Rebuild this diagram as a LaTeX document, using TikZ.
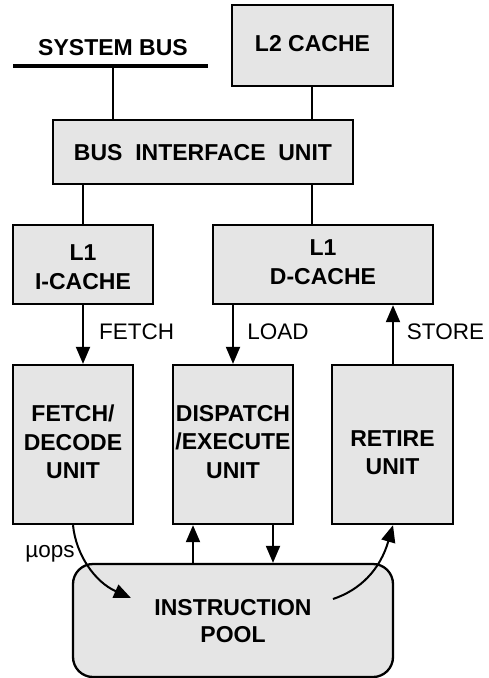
\documentclass[tikz,border=0pt]{standalone}
\usepackage{fontspec}
\setmainfont{Liberation Sans}
\usetikzlibrary{arrows.meta,calc}
\begin{document}
\begin{tikzpicture}[x=1pt,y=-1pt,
  box/.style={draw=black,line width=2.3pt,fill=black!10,inner sep=0pt},
  txt/.style={inner sep=0pt,align=center,font=\bfseries\fontsize{23}{28.5}\selectfont},
  lbl/.style={inner sep=0pt,font=\fontsize{22.5}{26}\selectfont},
  conn/.style={line width=2pt},
  arr/.style={line width=2pt,-{Triangle[length=17pt,width=14pt]}}]
\useasboundingbox (0,0) rectangle (488,678);
% boxes
\node[box,minimum width=161pt,minimum height=81pt] (l2) at (312.5,45.5) {};
\node[box,minimum width=300pt,minimum height=64pt] (biu) at (203,152) {};
\node[box,minimum width=140pt,minimum height=79pt] (l1i) at (83,264.5) {};
\node[box,minimum width=220pt,minimum height=79pt] (l1d) at (323,264.5) {};
\node[box,minimum width=120pt,minimum height=159pt] (fd) at (73,444.5) {};
\node[box,minimum width=120pt,minimum height=159pt] (de) at (233,444.5) {};
\node[box,minimum width=121pt,minimum height=159pt] (ru) at (392.5,444.5) {};
\node[box,minimum width=320pt,minimum height=113pt,rounded corners=20pt] (pool) at (233,620.5) {};
% texts
\node[txt] (l2t) at (312.5,44) {L2 CACHE};
\node[txt] (biut) at (203,152.5) {BUS\ \ INTERFACE\ \ UNIT};
\node[txt] (l1it) at (83,267) {L1\\[0.5pt]I-CACHE};
\node[txt] (l1dt) at (323,262) {L1\\[0.5pt]D-CACHE};
\node[txt] (fdt) at (73,442) {FETCH/\\DECODE\\UNIT};
\node[txt] (det) at (233,442) {DISPATCH\\/EXECUTE\\UNIT};
\node[txt] (rut) at (392.5,452.5) {RETIRE\\UNIT};
\node[txt,font=\bfseries\fontsize{23}{26.5}\selectfont] (poolt) at (233,621) {INSTRUCTION\\POOL};
% system bus
\node[txt] (sbl) at (113,48) {SYSTEM BUS};
\coordinate (busL) at (13,66);
\coordinate (busR) at (208,66);
\coordinate (busT) at (113,66);
\coordinate (l2x) at (312,0);
\coordinate (rux) at (393,0);
\draw[line width=4.5pt] (busL) -- (busR);
\draw[conn] (busT) -- (busT |- biu.north);
\draw[conn] (l2.south -| l2x) -- (biu.north -| l2x);
\draw[conn] (l1i.north) -- (l1i.north |- biu.south);
\draw[conn] (biu.south -| l2x) -- (l1d.north -| l2x);
% cache arrows
\draw[arr] (l1i.south) -- (l1i.south |- fd.north);
\draw[arr] (l1d.south -| de.north) -- (de.north);
\draw[arr] (ru.north -| rux) -- (l1d.south -| rux);
\node[lbl] (lf) at (136.5,332) {FETCH};
\node[lbl] (ll) at (278,332) {LOAD};
\node[lbl] (ls) at (445.5,332) {STORE};
% pool arrows
\coordinate (upx) at (193,0);
\coordinate (dnx) at (273,0);
\draw[arr] (pool.north -| upx) -- (de.south -| upx);
\draw[arr] (de.south -| dnx) -- (pool.north -| dnx);
\coordinate (uin) at (131,598);
\coordinate (rout) at (333,599);
\draw[arr] (fd.south) .. controls (76,555) and (95,582) .. (uin);
\draw[arr] (rout) .. controls (360,590) and (380,570) .. (ru.south -| rux);
\node[lbl] (mu) at (50,554) {µops};
\end{tikzpicture}
\end{document}
